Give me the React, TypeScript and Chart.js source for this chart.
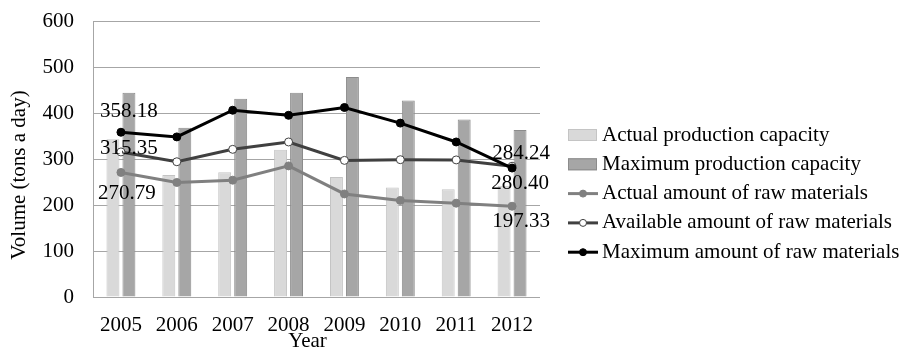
import { useEffect, useRef } from "react";
import { Chart, registerables } from "chart.js";

Chart.register(...registerables);

const years = ["2005", "2006", "2007", "2008", "2009", "2010", "2011", "2012"];
const actualCapacity = [343, 265, 271, 320, 261, 238, 234, 242];
const maxCapacity = [444, 368, 431, 444, 478, 427, 386, 363];
const actualRaw = [270.79, 249, 254, 285, 224, 210, 204, 197.33];
const availableRaw = [315.35, 294, 321, 337, 297, 298.5, 298, 284.24];
const maxRaw = [358.18, 348, 406, 395, 412, 378, 337, 280.4];
const seriesNames = [
  "Actual production capacity",
  "Maximum production capacity",
  "Actual amount of raw materials",
  "Available amount of raw materials",
  "Maximum amount of raw materials",
];
const yMin = 0;
const yMax = 600;
const yStep = 100;
const yTitle = "Volume (tons a day)";
const xTitle = "Year";

const FONT = '"Liberation Serif", "Times New Roman", serif';
const FS = 21;

// which points get a value label: [datasetIndex, dataIndex, dx, dy]
const labelSpecs: [number, number, number, number][] = [
  [4, 0, 8, -21],
  [3, 0, 8, -3],
  [2, 0, 6, 21],
  [3, 7, 9, -13],
  [4, 7, 8, 15],
  [2, 7, 9, 15],
];

const overlayPlugin = {
  id: "overlay",
  afterDraw(chart: any) {
    const ctx = chart.ctx;
    const ca = chart.chartArea;
    ctx.save();
    ctx.font = `${FS}px ${FONT}`;
    ctx.fillStyle = "#000";
    ctx.textBaseline = "middle";
    ctx.textAlign = "center";
    // data labels
    for (const [di, i, dx, dy] of labelSpecs) {
      const meta = chart.getDatasetMeta(di);
      const el = meta.data[i];
      const v = chart.data.datasets[di].data[i] as number;
      ctx.fillText(v.toFixed(2), el.x + dx, el.y + dy);
    }
    // axis titles
    ctx.save();
    ctx.translate(ca.left - 74, ca.top + 154);
    ctx.rotate(-Math.PI / 2);
    ctx.fillText(yTitle, 0, 0);
    ctx.restore();
    ctx.fillText(xTitle, (ca.left + ca.right) / 2 - 9, ca.bottom + 44);

    // legend
    const lx = ca.right + 28;
    const ly = ca.top + 114;
    const rowH = 29.3;
    ctx.textAlign = "left";
    chart.data.datasets.forEach((ds: any, k: number) => {
      const y = ly + k * rowH;
      if (ds.type === "bar") {
        ctx.fillStyle = ds.backgroundColor;
        ctx.fillRect(lx, y - 6, 29, 12);
        ctx.strokeStyle = ds.borderColor;
        ctx.lineWidth = 1;
        ctx.strokeRect(lx + 0.5, y - 5.5, 28, 11);
      } else {
        ctx.strokeStyle = ds.borderColor;
        ctx.lineWidth = 3;
        ctx.beginPath();
        ctx.moveTo(lx, y);
        ctx.lineTo(lx + 30, y);
        ctx.stroke();
        ctx.beginPath();
        ctx.arc(lx + 15, y, 3.5, 0, Math.PI * 2);
        ctx.fillStyle = ds.pointBackgroundColor;
        ctx.fill();
        ctx.lineWidth = 1;
        ctx.strokeStyle = ds.pointBorderColor;
        ctx.stroke();
      }
      ctx.fillStyle = "#000";
      ctx.fillText(ds.label, lx + 34, y);
    });
    ctx.restore();
  },
};

export default function App() {
  const ref = useRef<HTMLCanvasElement | null>(null);
  useEffect(() => {
    if (!ref.current) return;
    const chart = new Chart(ref.current, {
      type: "bar",
      data: {
        labels: years,
        datasets: [
          {
            type: "bar",
            label: seriesNames[0],
            data: actualCapacity,
            backgroundColor: "#d9d9d9",
            borderColor: "#c4c4c4",
            borderWidth: 1,
            order: 2,
            categoryPercentage: 0.572,
            barPercentage: 0.81,
          },
          {
            type: "bar",
            label: seriesNames[1],
            data: maxCapacity,
            backgroundColor: "#a6a6a6",
            borderColor: "#8c8c8c",
            borderWidth: 1,
            order: 2,
            categoryPercentage: 0.572,
            barPercentage: 0.81,
          },
          {
            type: "line",
            label: seriesNames[2],
            data: actualRaw,
            borderColor: "#808080",
            backgroundColor: "#808080",
            pointBackgroundColor: "#808080",
            pointBorderColor: "#808080",
            borderWidth: 3,
            pointRadius: 4,
            pointBorderWidth: 1,
            order: 1,
          },
          {
            type: "line",
            label: seriesNames[3],
            data: availableRaw,
            borderColor: "#404040",
            backgroundColor: "#404040",
            pointBackgroundColor: "#ffffff",
            pointBorderColor: "#404040",
            borderWidth: 3,
            pointRadius: 4,
            pointBorderWidth: 1,
            order: 1,
          },
          {
            type: "line",
            label: seriesNames[4],
            data: maxRaw,
            borderColor: "#000000",
            backgroundColor: "#000000",
            pointBackgroundColor: "#000000",
            pointBorderColor: "#000000",
            borderWidth: 3,
            pointRadius: 4,
            pointBorderWidth: 1,
            order: 0,
          },
        ] as any,
      },
      options: {
        animation: false,
        responsive: false,
        devicePixelRatio: 1,
        layout: { padding: { top: 21, right: 362, left: 0, bottom: 0 } },
        plugins: {
          legend: { display: false },
          tooltip: { enabled: false },
        },
        scales: {
          x: {
            grid: { display: false, drawTicks: false },
            border: { display: false },
            ticks: {
              color: "#000",
              font: { family: FONT, size: FS },
              padding: 16,
              maxRotation: 0,
              autoSkip: false,
            },
            afterFit: (s: any) => {
              s.height = 52;
            },
          },
          y: {
            min: yMin,
            max: yMax,
            grid: { color: "#a6a6a6", lineWidth: 1, drawTicks: false },
            border: { display: true, color: "#a6a6a6" },
            ticks: {
              stepSize: yStep,
              color: "#000",
              font: { family: FONT, size: FS },
              padding: 19,
            },
            afterFit: (s: any) => {
              s.width = 93;
              s.paddingTop = 0;
              s.paddingBottom = 0;
            },
          },
        },
      },
      plugins: [overlayPlugin],
    });
    return () => chart.destroy();
  }, []);
  return (
    <div style={{ position: "fixed", left: 0, top: 0, width: 902, height: 349, background: "#fff" }}>
      <canvas ref={ref} width={902} height={349} />
    </div>
  );
}
